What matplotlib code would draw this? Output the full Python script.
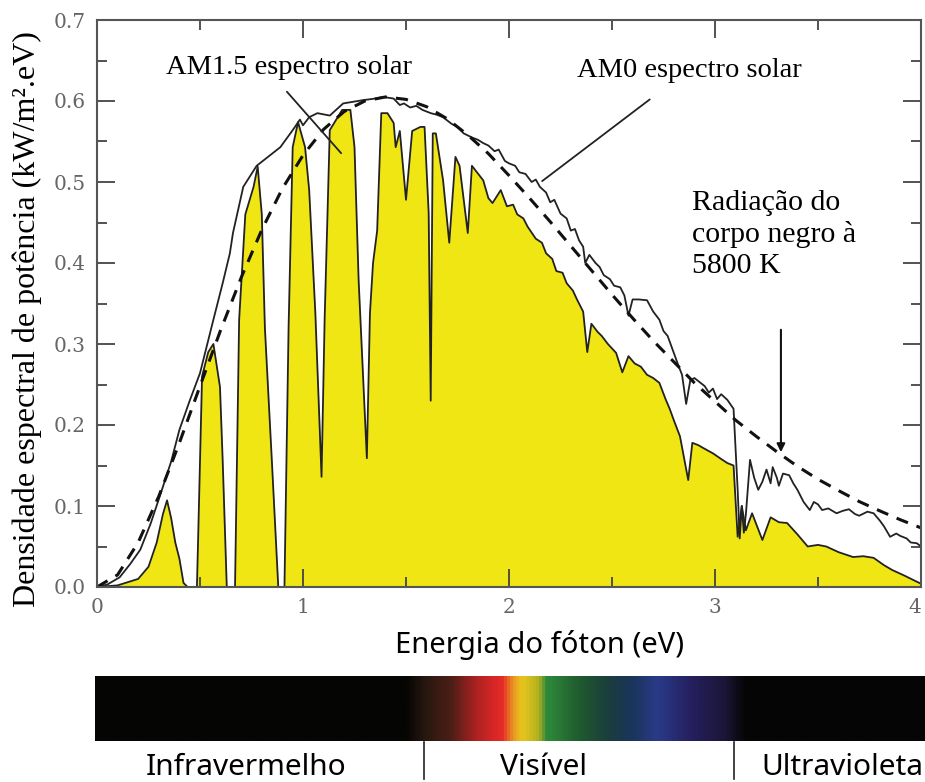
import numpy as np
import matplotlib.pyplot as plt
from matplotlib.colors import LinearSegmentedColormap

# Espectro AM1.5 (area amarela)
am15_x = [0.00, 0.10, 0.20, 0.25, 0.29, 0.32, 0.34, 0.36, 0.38, 0.40,
          0.42, 0.44, 0.485, 0.49, 0.51, 0.54, 0.565, 0.597, 0.61, 0.63,
          0.67, 0.69, 0.72, 0.76, 0.78, 0.80, 0.815, 0.85, 0.88, 0.91,
          0.93, 0.95, 0.976, 1.01, 1.03, 1.06, 1.09, 1.105, 1.13, 1.19,
          1.23, 1.25, 1.27, 1.31, 1.325, 1.34, 1.36, 1.38, 1.41, 1.44,
          1.45, 1.47, 1.50, 1.53, 1.57, 1.59, 1.61, 1.62, 1.63, 1.645,
          1.68, 1.71, 1.74, 1.76, 1.80, 1.82, 1.875, 1.90, 1.92, 1.96,
          1.99, 2.02, 2.04, 2.07, 2.09, 2.13, 2.16, 2.18, 2.21, 2.23,
          2.26, 2.28, 2.31, 2.33, 2.36, 2.38, 2.40, 2.43, 2.45, 2.48,
          2.52, 2.55, 2.58, 2.61, 2.64, 2.67, 2.70, 2.73, 2.76, 2.78,
          2.80, 2.83, 2.87, 2.89, 2.92, 2.94, 2.99, 3.03, 3.06, 3.09,
          3.11, 3.13, 3.15, 3.18, 3.23, 3.27, 3.31, 3.35, 3.40, 3.45,
          3.50, 3.54, 3.60, 3.67, 3.72, 3.77, 3.82, 3.86, 3.92, 4.00]
am15_y = [0.000, 0.002, 0.010, 0.025, 0.055, 0.090, 0.107, 0.085, 0.055, 0.035,
          0.005, 0.000, 0.000, 0.050, 0.260, 0.290, 0.300, 0.247, 0.157, 0.000,
          0.000, 0.330, 0.460, 0.494, 0.519, 0.460, 0.320, 0.150, 0.000, 0.000,
          0.320, 0.543, 0.574, 0.543, 0.490, 0.338, 0.136, 0.330, 0.564, 0.589,
          0.589, 0.543, 0.379, 0.159, 0.338, 0.400, 0.440, 0.585, 0.585, 0.573,
          0.543, 0.563, 0.478, 0.563, 0.568, 0.568, 0.462, 0.230, 0.560, 0.560,
          0.502, 0.425, 0.531, 0.520, 0.437, 0.520, 0.502, 0.480, 0.474, 0.490,
          0.470, 0.472, 0.460, 0.455, 0.445, 0.430, 0.425, 0.412, 0.405, 0.390,
          0.388, 0.375, 0.366, 0.355, 0.340, 0.290, 0.325, 0.315, 0.310, 0.300,
          0.289, 0.265, 0.285, 0.276, 0.272, 0.262, 0.258, 0.252, 0.232, 0.220,
          0.206, 0.186, 0.132, 0.178, 0.175, 0.172, 0.165, 0.158, 0.153, 0.150,
          0.062, 0.100, 0.070, 0.091, 0.058, 0.086, 0.080, 0.079, 0.065, 0.050,
          0.052, 0.050, 0.043, 0.037, 0.038, 0.036, 0.027, 0.021, 0.014, 0.004]

# Espectro AM0
am0_x = [0.00, 0.05, 0.11, 0.16, 0.21, 0.26, 0.31, 0.36, 0.40, 0.45,
         0.50, 0.565, 0.61, 0.645, 0.66, 0.71, 0.775, 0.81, 0.85, 0.89,
         0.95, 0.985, 1.00, 1.03, 1.07, 1.13, 1.195, 1.29, 1.35, 1.39,
         1.44, 1.47, 1.49, 1.52, 1.55, 1.58, 1.62, 1.65, 1.68, 1.72,
         1.75, 1.78, 1.82, 1.85, 1.875, 1.90, 1.93, 1.95, 1.98, 2.00,
         2.03, 2.05, 2.08, 2.11, 2.13, 2.15, 2.18, 2.20, 2.22, 2.25,
         2.28, 2.30, 2.32, 2.34, 2.36, 2.37, 2.39, 2.42, 2.44, 2.46,
         2.49, 2.51, 2.54, 2.56, 2.58, 2.60, 2.63, 2.67, 2.70, 2.73,
         2.75, 2.77, 2.80, 2.82, 2.84, 2.86, 2.88, 2.90, 2.93, 2.95,
         2.97, 2.99, 3.01, 3.03, 3.06, 3.09, 3.11, 3.12, 3.13, 3.14,
         3.15, 3.17, 3.19, 3.21, 3.23, 3.25, 3.27, 3.28, 3.30, 3.31,
         3.33, 3.36, 3.38, 3.40, 3.43, 3.46, 3.48, 3.50, 3.52, 3.55,
         3.59, 3.62, 3.65, 3.68, 3.70, 3.74, 3.77, 3.80, 3.82, 3.85,
         3.88, 3.90, 3.93, 3.95, 3.98, 4.00]
am0_y = [0.000, 0.003, 0.012, 0.028, 0.046, 0.078, 0.116, 0.155, 0.194, 0.230,
         0.264, 0.330, 0.375, 0.412, 0.437, 0.494, 0.520, 0.527, 0.535, 0.543,
         0.564, 0.577, 0.570, 0.580, 0.585, 0.582, 0.597, 0.601, 0.603, 0.605,
         0.603, 0.595, 0.597, 0.592, 0.594, 0.589, 0.585, 0.583, 0.580, 0.572,
         0.568, 0.560, 0.555, 0.552, 0.548, 0.545, 0.538, 0.540, 0.526, 0.523,
         0.520, 0.512, 0.510, 0.500, 0.503, 0.494, 0.487, 0.475, 0.478, 0.461,
         0.455, 0.440, 0.442, 0.428, 0.420, 0.400, 0.410, 0.400, 0.395, 0.385,
         0.380, 0.372, 0.370, 0.360, 0.335, 0.355, 0.355, 0.354, 0.340, 0.330,
         0.316, 0.310, 0.289, 0.275, 0.262, 0.226, 0.255, 0.258, 0.252, 0.248,
         0.240, 0.245, 0.232, 0.238, 0.231, 0.220, 0.120, 0.060, 0.100, 0.067,
         0.090, 0.157, 0.135, 0.120, 0.130, 0.145, 0.128, 0.148, 0.135, 0.125,
         0.140, 0.138, 0.128, 0.120, 0.105, 0.095, 0.105, 0.102, 0.095, 0.097,
         0.091, 0.094, 0.096, 0.090, 0.088, 0.093, 0.091, 0.082, 0.075, 0.062,
         0.066, 0.063, 0.060, 0.055, 0.054, 0.050]

# Corpo negro a 5800 K (tracejado)
bb_x = [0.0, 0.1, 0.2, 0.3, 0.4, 0.5, 0.6, 0.7, 0.8, 0.9,
        1.0, 1.1, 1.2, 1.3, 1.4, 1.5, 1.6, 1.7, 1.8, 1.9,
        2.0, 2.1, 2.2, 2.3, 2.4, 2.5, 2.6, 2.7, 2.8, 2.9,
        3.0, 3.1, 3.2, 3.3, 3.4, 3.5, 3.6, 3.7, 3.8, 3.9, 4.0]
bb_y = [0.000, 0.015, 0.055, 0.112, 0.178, 0.248, 0.317, 0.382, 0.441, 0.492,
        0.533, 0.565, 0.587, 0.600, 0.605, 0.602, 0.593, 0.578, 0.558, 0.535,
        0.508, 0.480, 0.451, 0.421, 0.391, 0.361, 0.332, 0.304, 0.278, 0.252,
        0.229, 0.206, 0.186, 0.167, 0.149, 0.133, 0.119, 0.1055, 0.094, 0.083, 0.073]

# cores da barra do espectro (posicao relativa, cor)
faixa_cores = [(0.0, '#050505'), (0.375, '#060504'), (0.395, '#24170f'), (0.43, '#4e1f16'),
               (0.46, '#b02222'), (0.49, '#e62a28'), (0.505, '#e89a22'), (0.515, '#e8c61c'),
               (0.535, '#b0b020'), (0.545, '#2e8a3a'), (0.585, '#1f5a2e'), (0.62, '#1b3d3e'),
               (0.645, '#1a3558'), (0.68, '#2a3a88'), (0.72, '#251f5e'), (0.76, '#1c1638'),
               (0.785, '#060505'), (1.0, '#050505')]

serif = ['Liberation Serif', 'DejaVu Serif']
sans = ['Noto Sans', 'DejaVu Sans']
W, H = 925, 782

fig = plt.figure(figsize=(9.25, 7.82), dpi=100)
ax = fig.add_axes([97 / W, 1 - 587 / H, 824 / W, 567 / H])

ax.fill_between(am15_x, am15_y, 0, color='#f0e614', linewidth=0)
ax.plot(am15_x, am15_y, color='#222222', linewidth=1.3)
ax.plot(am0_x, am0_y, color='#222222', linewidth=1.3)
ax.plot(bb_x, bb_y, color='#111111', linewidth=2.2, linestyle=(0, (4, 3)))

ax.set_xlim(0, 4)
ax.set_ylim(0, 0.7)
ax.set_xticks([0, 1, 2, 3, 4])
ax.set_xticks([0.5, 1.5, 2.5, 3.5], minor=True)
ax.set_yticks(np.arange(0, 0.71, 0.1))
ax.set_yticks(np.arange(0.05, 0.7, 0.1), minor=True)
ax.set_xticklabels(['0', '1', '2', '3', '4'])
ax.set_yticklabels(['%.1f' % v for v in np.arange(0, 0.71, 0.1)])
ax.tick_params(which='both', direction='in', top=True, right=True, color='#444444',
               labelcolor='#666666', labelsize=14.5, width=1.3)
ax.tick_params(which='major', length=13, pad=8)
ax.tick_params(which='minor', length=7)
for lab in ax.get_xticklabels() + ax.get_yticklabels():
    lab.set_family('DejaVu Serif')
ax.get_xticklabels()[-1].set_horizontalalignment('right')  # o "4" fica na borda
for s in ax.spines.values():
    s.set_color('#555555')
    s.set_linewidth(1.5)

fig.text(27 / W, 1 - 319 / H, 'Densidade espectral de potência (kW/m².eV)', family=serif,
         fontsize=23, rotation=90, ha='center', va='center')
fig.text(540 / W, 1 - 645 / H, 'Energia do fóton (eV)', family=sans, fontsize=21,
         ha='center', va='center')

# anotacoes
ax.text(0.932, 0.641, 'AM1.5 espectro solar', family=serif, fontsize=20.5, ha='center', va='center')
ax.annotate('', xy=(1.194, 0.533), xytext=(0.913, 0.614),
            arrowprops=dict(arrowstyle='-', color='#222222', lw=1.3))
ax.text(2.874, 0.638, 'AM0 espectro solar', family=serif, fontsize=20.5, ha='center', va='center')
ax.annotate('', xy=(2.15, 0.499), xytext=(2.694, 0.604),
            arrowprops=dict(arrowstyle='-', color='#222222', lw=1.3))
ax.text(2.888, 0.490, 'Radiação do\ncorpo negro à\n5800 K', family=serif, fontsize=21.5,
        ha='left', va='top', linespacing=1.25)
ax.annotate('', xy=(3.32, 0.163), xytext=(3.32, 0.321),
            arrowprops=dict(arrowstyle='-|>', color='#111111', lw=1.5, mutation_scale=12))

# barra do espectro
bx = fig.add_axes([95 / W, 1 - 741 / H, 830 / W, 65 / H])
cmap = LinearSegmentedColormap.from_list('espectro', faixa_cores)
bx.imshow(np.linspace(0, 1, 800)[None, :], cmap=cmap, aspect='auto', extent=[0, 1, 0, 1])
bx.set_axis_off()

for xs in [424, 734]:
    fig.add_artist(plt.Line2D([xs / W, xs / W], [1 - 742 / H, 1 - 779 / H], color='#222222', lw=1.2))

fig.text(246 / W, 1 - 775 / H, 'Infravermelho', family=sans, fontsize=21.5, ha='center', va='baseline')
fig.text(543 / W, 1 - 775 / H, 'Visível', family=sans, fontsize=21.5, ha='center', va='baseline')
fig.text(842 / W, 1 - 775 / H, 'Ultravioleta', family=sans, fontsize=21.5, ha='center', va='baseline')

fig.savefig('out.png', dpi=100)
